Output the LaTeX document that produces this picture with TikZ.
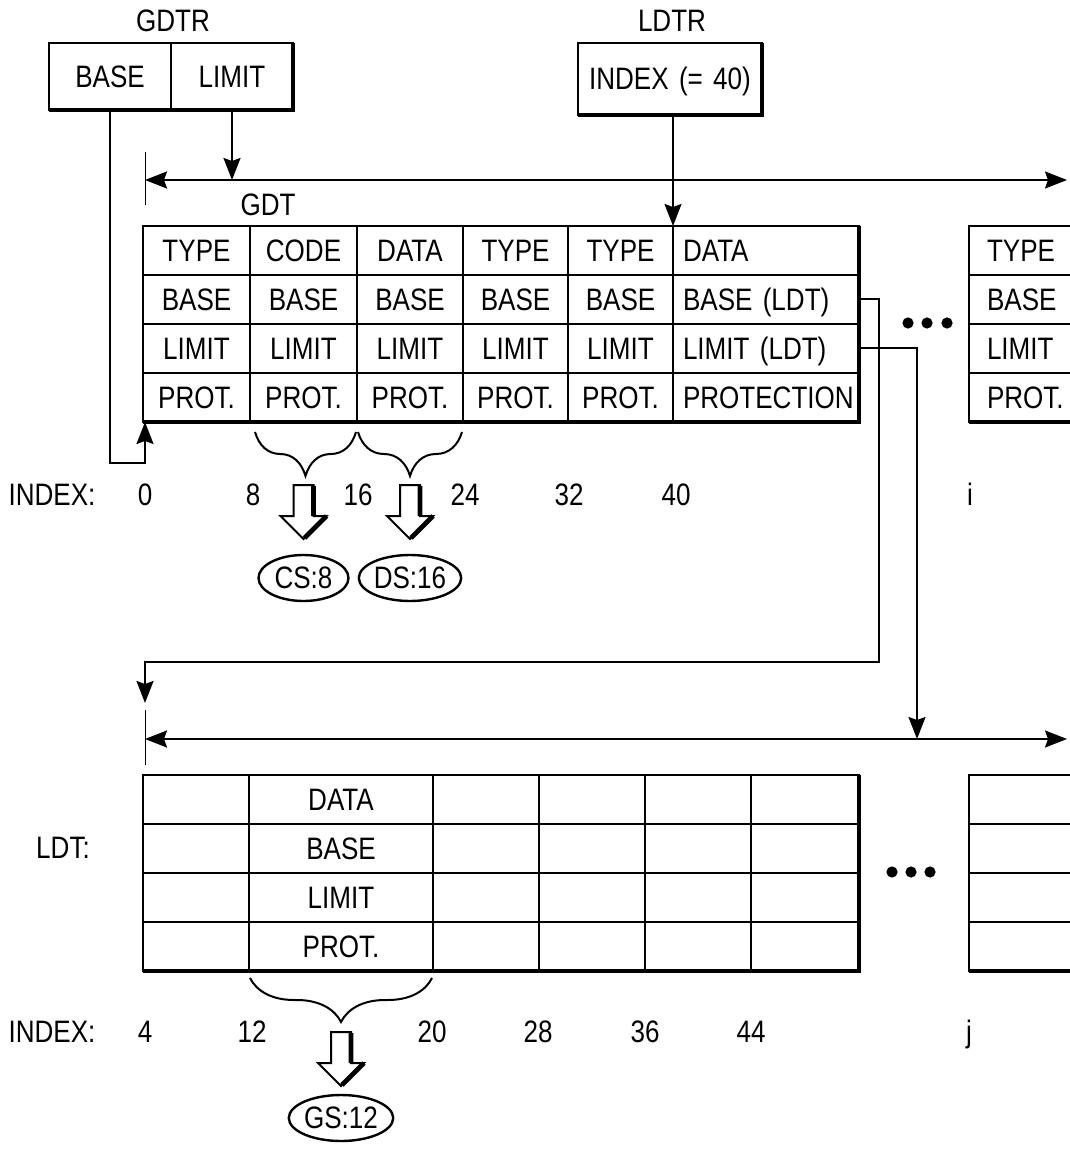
\documentclass[tikz,border=0pt]{standalone}
\usepackage{fontspec}
\newfontfamily\narrowsans[FakeStretch=0.84]{Liberation Sans}
\usepackage{tikz}
\usetikzlibrary{arrows.meta,calc}
\usetikzlibrary{positioning,shapes.geometric,decorations.pathreplacing}

\tikzset{
  txt/.style={font=\narrowsans\fontsize{15.5pt}{18pt}\selectfont,
    text height=10.7pt, text depth=0pt, inner sep=0pt},
  cell/.style={txt, draw, line width=1pt, inner xsep=5pt, inner ysep=0pt,
    minimum height=24.5pt, outer sep=0pt, anchor=north west, align=center},
  heavy/.style={line width=2pt},
  link/.style={line width=1pt},
  seg/.style={txt, ellipse, draw, line width=1.2pt, minimum width=45pt,
    minimum height=23pt},
  idxbrace/.style={line width=1pt, decorate,
    decoration={brace, mirror, amplitude=22pt}},
  hollow/.pic={
    \draw[line width=1pt, fill=white] (-10,0) -- (10,0) -- (10,31) -- (23,31)
      -- (0,54) -- (-23,31) -- (-10,31) -- cycle;
    \draw[line width=2.4pt] (10,1) -- (10,31) (23,31) -- (1,53);
  }
}

\begin{document}
\begin{tikzpicture}[x=0.5pt, y=-0.5pt,
    >={Stealth[length=11pt, width=8.5pt, inset=1.5pt]}]
    \useasboundingbox (0,0) rectangle (1069,1149);

    % Registers
    \node[txt] (gdtr) at (173,21) {GDTR};
    \node[cell, text width=51pt, minimum height=33.5pt] (gdtrbase) at (49,43) {BASE};
    \node[cell, text width=51pt, minimum height=33.5pt] (gdtrlimit) at (171,43) {LIMIT};
    \draw[heavy] (gdtrlimit.north east) -- (gdtrlimit.south east) -- (gdtrbase.south west);

    \node[txt] (ldtrlbl) at (672,21) {LDTR};
    \node[cell, text width=82pt, minimum height=36pt] (ldtr) at (578,43) {INDEX (= 40)};
    \draw[heavy] (ldtr.north east) -- (ldtr.south east) -- (ldtr.south west);

    % GDT
    \node[txt] (gdtlbl) at (268,205) {GDT};
    \foreach \c/\xl/\xr/\ta/\tb/\tc/\td in {
        1/143/250/TYPE/BASE/LIMIT/PROT.,
        2/250/357/CODE/BASE/LIMIT/PROT.,
        3/357/463/DATA/BASE/LIMIT/PROT.,
        4/463/568/TYPE/BASE/LIMIT/PROT.,
        5/568/673/TYPE/BASE/LIMIT/PROT.} {
        \pgfmathsetmacro\w{(\xr-\xl)/2-10}
        \node[cell, text width=\w pt] (g\c-1) at (\xl,226) {\ta};
        \node[cell, text width=\w pt] (g\c-2) at (\xl,275) {\tb};
        \node[cell, text width=\w pt] (g\c-3) at (\xl,324) {\tc};
        \node[cell, text width=\w pt] (g\c-4) at (\xl,373) {\td};
    }
    \node[cell, text width=83pt, align=left] (g6-1) at (673,226) {\mbox{DATA}};
    \node[cell, text width=83pt, align=left] (g6-2) at (673,275) {\mbox{BASE (LDT)}};
    \node[cell, text width=83pt, align=left] (g6-3) at (673,324) {\mbox{LIMIT (LDT)}};
    \node[cell, text width=83pt, align=left] (g6-4) at (673,373) {\mbox{PROTECTION}};
    \draw[heavy] (g6-1.north east) -- (g6-4.south east) -- (g1-4.south west);

    \foreach \r/\y/\t in {1/226/TYPE, 2/275/BASE, 3/324/LIMIT, 4/373/PROT.}
        \node[cell, text width=40pt, inner xsep=9pt, align=left] (gx-\r) at (969,\y) {\t};
    \draw[heavy] (gx-4.south west) -- (gx-4.south east);

    \foreach \x in {908,927,947}
        \fill (\x,323) circle[radius=2.8pt];

    % GDT span and links
    \coordinate (gspanL) at (145,180);
    \coordinate (gspanR) at (1067,180);
    \draw (145,152) -- (145,205);
    \draw[link, <->] (gspanL) -- (gspanR);
    \draw[link, ->] (gdtrlimit.south) -- (gdtrlimit.south |- gspanL);
    \draw[link, ->] (ldtr.south -| g6-1.north west) -- (g6-1.north west);
    \coordinate (gbaseturn) at (145,463);
    \draw[link, ->] (gdtrbase.south) |- (gbaseturn) -- (gbaseturn |- g1-4.south);

    % Selectors into GDT
    \draw[idxbrace] ($(g2-4.south west)+(5,10)$) -- ($(g2-4.south east)+(-1,10)$);
    \draw[idxbrace] ($(g3-4.south west)+(1,10)$) -- ($(g3-4.south east)+(-1,10)$);
    \pic at ($(g2-4.south)+(0,63)$) {hollow};
    \pic at ($(g3-4.south)+(0,63)$) {hollow};
    \node[seg] (cs) at ($(g2-4.south)+(0,156)$) {CS:8};
    \node[seg] (ds) at ($(g3-4.south)+(0,156)$) {DS:16};

    \node[txt] (gindex) at (52,495) {INDEX:};
    \foreach \v/\x in {0/145, 8/253, 16/358, 24/465, 32/569, 40/676, i/970}
        \node[txt] (gi\v) at (\x,495) {\v};

    % LDT span and links
    \coordinate (ldtturn) at (145,662);
    \coordinate (ldtbasetip) at (145,703);
    \draw[link, ->] (g6-2.east) -- ++(20,0) |- (ldtturn) -- (ldtbasetip);
    \coordinate (lspanL) at (145,739);
    \coordinate (lspanR) at (1067,739);
    \draw (145,710) -- (145,765);
    \draw[link, <->] (lspanL) -- (lspanR);
    \draw[link, ->] (g6-3.east) -- ++(58,0) coordinate (ldtlimturn) -- (ldtlimturn |- lspanL);

    % LDT
    \node[txt] (ldtlbl) at (63,848) {LDT:};
    \foreach \c/\xl/\xr/\ta/\tb/\tc/\td in {
        1/143/249/{}/{}/{}/{},
        2/249/433/DATA/BASE/LIMIT/PROT.,
        3/433/539/{}/{}/{}/{},
        4/539/645/{}/{}/{}/{},
        5/645/751/{}/{}/{}/{},
        6/751/859/{}/{}/{}/{}} {
        \pgfmathsetmacro\w{(\xr-\xl)/2-10}
        \node[cell, text width=\w pt] (l\c-1) at (\xl,775) {\ta};
        \node[cell, text width=\w pt] (l\c-2) at (\xl,824) {\tb};
        \node[cell, text width=\w pt] (l\c-3) at (\xl,873) {\tc};
        \node[cell, text width=\w pt] (l\c-4) at (\xl,922) {\td};
    }
    \draw[heavy] (l6-1.north east) -- (l6-4.south east) -- (l1-4.south west);

    \foreach \r/\y in {1/775, 2/824, 3/873, 4/922}
        \node[cell, text width=40pt, inner xsep=9pt] (lx-\r) at (969,\y) {};
    \draw[heavy] (lx-4.south west) -- (lx-4.south east);

    \foreach \x in {892,911,930}
        \fill (\x,872) circle[radius=2.8pt];

    % Selector into LDT
    \draw[idxbrace] ($(l2-4.south west)+(1,7)$) -- ($(l2-4.south east)+(-1,7)$);
    \pic at ($(l2-4.south)+(0,61)$) {hollow};
    \node[seg] (gs) at ($(l2-4.south)+(0,147)$) {GS:12};

    \node[txt] (lindex) at (52,1032) {INDEX:};
    \foreach \v/\x in {4/145, 12/252, 20/432, 28/538, 36/645, 44/751, j/969}
        \node[txt] (li\v) at (\x,1032) {\v};
\end{tikzpicture}
\end{document}
